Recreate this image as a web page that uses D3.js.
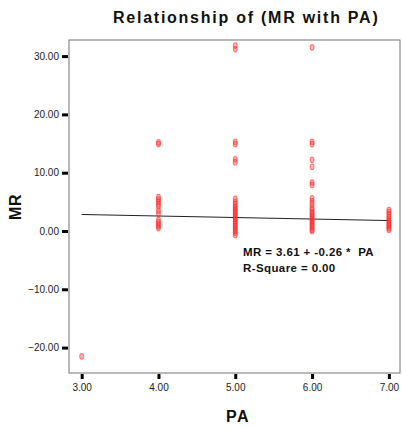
<!DOCTYPE html>
<html><head><meta charset="utf-8">
<script src="https://cdn.jsdelivr.net/npm/d3@7"></script>
<style>
html,body{margin:0;padding:0;background:#fff;}
text{font-family:"Liberation Sans",Arial,sans-serif;}
</style>
</head><body>
<div id="chart"></div>
<script>
// ---- data ----
const pa3 = [-21.5];
const pa4 = [15.2, 14.9, 5.8, 5.4, 5.0, 4.6, 4.2, 3.5, 3.0, 1.9, 1.5, 1.1, 0.8, 0.5];
const pa5 = [31.8, 31.2, 15.3, 14.9, 12.3, 11.8, 5.5, 5.0, 4.6, 4.2, 3.9, 3.6, 3.3, 3.0, 2.7, 2.4, 2.1, 1.8, 1.5, 1.2, 0.9, 0.6, 0.3, 0.0, -0.3, -0.7];
const pa6 = [31.5, 15.3, 14.9, 12.2, 11.0, 8.3, 7.9, 5.6, 5.1, 4.6, 4.0, 3.6, 3.2, 2.9, 2.6, 2.3, 2.0, 1.7, 1.4, 1.1, 0.8, 0.5, 0.2, 0.0];
const pa7 = [3.6, 3.2, 2.8, 2.4, 2.0, 1.7, 1.4, 1.1, 0.8, 0.5, 0.2];
const xTicks = [3, 4, 5, 6, 7];
const yTicks = [-20, -10, 0, 10, 20, 30];
const intercept = 3.61, slope = -0.26, rSquare = 0.00;

const groups = [[3, pa3], [4, pa4], [5, pa5], [6, pa6], [7, pa7]];
const points = groups.flatMap(([x, ys]) => ys.map(y => ({x, y})));

const W = 402, H = 429;
const svg = d3.select("#chart").append("svg").attr("width", W).attr("height", H);

const fx = {l: 69, r: 400, t: 40, b: 373};
const x = d3.scaleLinear().domain([2.835, 7.145]).range([fx.l, fx.r]);
const y = d3.scaleLinear().domain([-24.36, 32.76]).range([fx.b, fx.t]);

// title
svg.append("text").attr("x", 113).attr("y", 23)
  .style("font-size", "16px").style("font-weight", "bold").style("letter-spacing", "1.75px")
  .attr("fill", "#111").text("Relationship of (MR with PA)");

// frame
svg.append("rect").attr("x", fx.l).attr("y", fx.t).attr("width", fx.r - fx.l).attr("height", fx.b - fx.t)
  .attr("fill", "none").attr("stroke", "#8a8a8a").attr("stroke-width", 1.2);

// axes
const fmt = d3.format(".2f");
const yAxis = svg.append("g").attr("transform", `translate(${fx.l - 1},0)`)
  .call(d3.axisLeft(y).tickValues(yTicks).tickFormat(fmt).tickSize(6).tickPadding(3));
const xAxis = svg.append("g").attr("transform", `translate(0,${fx.b + 1})`)
  .call(d3.axisBottom(x).tickValues(xTicks).tickFormat(fmt).tickSize(5).tickPadding(5));
[yAxis, xAxis].forEach(a => {
  a.select(".domain").remove();
  a.selectAll(".tick line").attr("stroke", "#000").attr("stroke-width", 3);
  a.selectAll(".tick text").style("font-size", "10px").style("font-family", '"Liberation Sans",Arial,sans-serif').attr("fill", "#222");
});

// axis titles
svg.append("text").attr("x", 238).attr("y", 422).attr("text-anchor", "middle")
  .style("font-size", "16px").style("font-weight", "bold").style("letter-spacing", "1.5px")
  .attr("fill", "#111").text("PA");
svg.append("text").attr("transform", "translate(21,207) rotate(-90)").attr("text-anchor", "middle")
  .style("font-size", "16px").style("font-weight", "bold").style("letter-spacing", "0.5px")
  .attr("fill", "#111").text("MR");

// regression line
const fitXs = [3, 7];
svg.append("path").datum(fitXs)
  .attr("d", d3.line().x(d => x(d)).y(d => y(intercept + slope * d)))
  .attr("fill", "none").attr("stroke", "#222").attr("stroke-width", 1);

// points
svg.append("g").selectAll("ellipse").data(points).join("ellipse")
  .attr("cx", d => x(d.x)).attr("cy", d => y(d.y)).attr("rx", 1.9).attr("ry", 2.8)
  .attr("fill", "rgba(255,50,50,0.3)").attr("stroke", "#ff2a2a").attr("stroke-opacity", 0.6).attr("stroke-width", 1.1);

// annotation
const ann = svg.append("g").style("font-size", "11.5px").style("font-weight", "bold").attr("fill", "#111");
ann.append("text").attr("x", 243).attr("y", 256).style("white-space", "pre").style("letter-spacing", "0.4px")
  .text(`MR = ${intercept.toFixed(2)} + ${slope.toFixed(2)} *  PA`);
ann.append("text").attr("x", 243).attr("y", 272).style("letter-spacing", "0.4px")
  .text(`R-Square = ${rSquare.toFixed(2)}`);
</script>
</body></html>
